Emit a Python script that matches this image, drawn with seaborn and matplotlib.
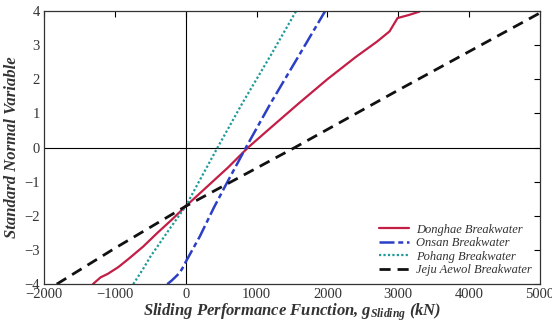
import matplotlib
matplotlib.use("Agg")
import matplotlib.pyplot as plt
import seaborn as sns
import pandas as pd

# Data
donghae_x = [-1310, -1200, -1100, -950, -800, -600, -400, -200, 0, 300, 600, 880, 1200, 1600, 2000, 2400, 2700, 2877, 2990, 3150, 3300]
donghae_y = [-4.0, -3.8, -3.7, -3.5, -3.25, -2.9, -2.5, -2.12, -1.72, -1.15, -0.58, 0.0, 0.58, 1.3, 2.0, 2.65, 3.1, 3.4, 3.79, 3.88, 3.98]

onsan_x = [-260, -200, -150, -90, -50, 0, 200, 400, 578, 850, 1200, 1600, 1970]
onsan_y = [-4.0, -3.9, -3.8, -3.68, -3.55, -3.35, -2.6, -1.75, -1.05, 0.0, 1.3, 2.7, 4.0]

pohang_x = [-740, -600, -500, -250, 0, 200, 450, 800, 1200, 1560]
pohang_y = [-4.0, -3.55, -3.2, -2.45, -1.72, -0.95, 0.0, 1.3, 2.7, 4.0]

jeju_x = [-1820, -1000, 0, 1540, 3000, 5000]
jeju_y = [-4.0, -2.95, -1.72, 0.0, 1.68, 3.94]

series_names = ["Donghae Breakwater", "Onsan Breakwater", "Pohang Breakwater", "Jeju Aewol Breakwater"]
x_ticks = [-2000, -1000, 0, 1000, 2000, 3000, 4000, 5000]
y_ticks = [-4, -3, -2, -1, 0, 1, 2, 3, 4]

frames = []
for name, xs, ys in zip(series_names,
                        [donghae_x, onsan_x, pohang_x, jeju_x],
                        [donghae_y, onsan_y, pohang_y, jeju_y]):
    frames.append(pd.DataFrame({"g": xs, "z": ys, "series": name}))
df = pd.concat(frames, ignore_index=True)

sns.set_theme(style="white")
plt.rcParams["font.family"] = ["Liberation Serif", "DejaVu Serif"]
plt.rcParams["mathtext.fontset"] = "custom"
plt.rcParams["mathtext.it"] = "Liberation Serif:italic:bold"
plt.rcParams["mathtext.rm"] = "Liberation Serif:bold"

fig = plt.figure(figsize=(5.52, 3.30), dpi=100)
ax = fig.add_axes([0.0797, 0.139, 0.8985, 0.828])

ax.axhline(0, color="black", lw=0.8, zorder=1)
ax.axvline(0, color="black", lw=0.8, zorder=1)

palette = {
    "Donghae Breakwater": "#C21E46",
    "Onsan Breakwater": "#2B3FC6",
    "Pohang Breakwater": "#1F9A9A",
    "Jeju Aewol Breakwater": "#111111",
}
dashes = {
    "Donghae Breakwater": "",
    "Onsan Breakwater": (6, 1.5, 2, 1.5),
    "Pohang Breakwater": (1, 1),
    "Jeju Aewol Breakwater": (4, 2.5),
}
widths = {
    "Donghae Breakwater": 1.6,
    "Onsan Breakwater": 1.8,
    "Pohang Breakwater": 1.6,
    "Jeju Aewol Breakwater": 2.0,
}

for name in series_names:
    sub = df[df["series"] == name]
    sns.lineplot(data=sub, x="g", y="z", sort=False, estimator=None, ax=ax,
                 color=palette[name], lw=widths[name], label=name)
    line = ax.lines[-1]
    if dashes[name]:
        line.set_dashes(dashes[name])

ax.set_xlim(-2000, 5000)
ax.set_ylim(-4, 4)
ax.set_xticks(x_ticks)
ax.set_yticks(y_ticks)
ax.tick_params(direction="in", length=4, width=0.8, top=True, right=True,
               labelsize=10.5, colors="black", pad=3)
for lab in ax.get_xticklabels() + ax.get_yticklabels():
    lab.set_color("#333333")
for s in ax.spines.values():
    s.set_color("#333333")
    s.set_linewidth(0.9)

ax.set_xlabel(r"Sliding Performance Function, $g_{Sliding}$ (kN)",
              fontsize=12, fontweight="bold", fontstyle="italic", color="#333333", labelpad=0)
ax.set_ylabel("Standard Normal Variable", fontsize=12, fontweight="bold",
              fontstyle="italic", color="#333333", labelpad=3)

leg = ax.legend(loc="lower right", frameon=False,
                handlelength=2.4, handletextpad=0.6, labelspacing=0.12,
                borderaxespad=0.25, prop={"style": "italic", "size": 9})
for t in leg.get_texts():
    t.set_color("#333333")

fig.savefig("out.png", dpi=100)
